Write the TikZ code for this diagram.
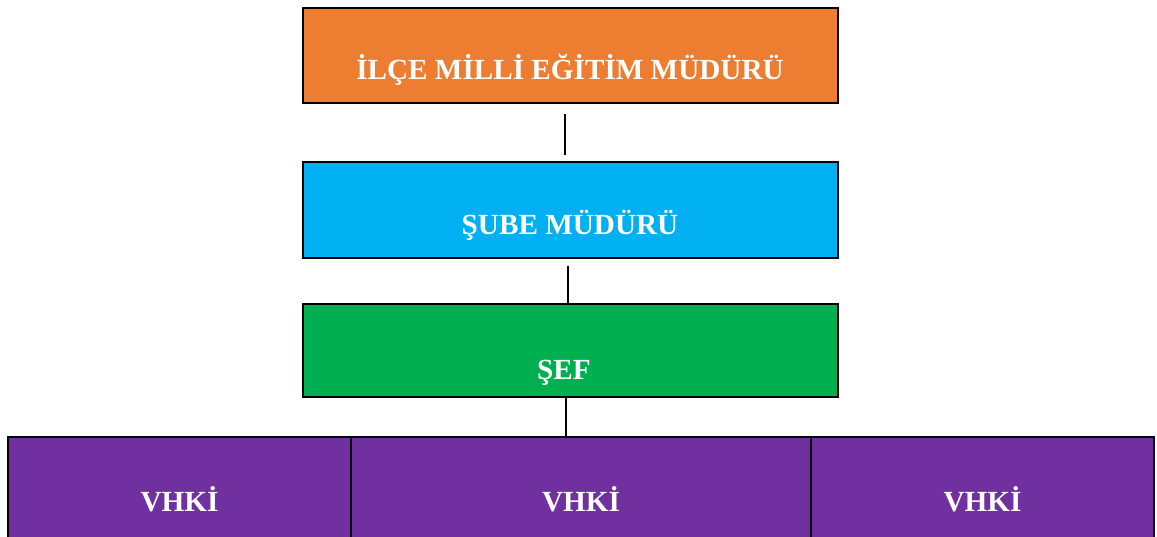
\documentclass[tikz,border=0pt]{standalone}
\usepackage{fontspec}
\setmainfont{Liberation Serif}
\definecolor{cOrange}{HTML}{ED7D31}
\definecolor{cBlue}{HTML}{00B0F0}
\definecolor{cGreen}{HTML}{00B050}
\definecolor{cPurple}{HTML}{7030A0}
\tikzset{
  boxstyle/.style={draw=black, line width=2pt, rectangle, inner sep=0pt, outer sep=0pt},
  lbl/.style={anchor=base, text=white, inner sep=0pt, font=\fontsize{29.2}{35}\selectfont\bfseries},
  conn/.style={draw=black, line width=1.5pt}
}
\begin{document}
\begin{tikzpicture}[x=1pt,y=-1pt]
\useasboundingbox (0,0) rectangle (1157,537);
\clip (0,0) rectangle (1157,537);
% boxes
\node[boxstyle, fill=cOrange, minimum width=535pt, minimum height=95pt] (mudur) at (570.5,55.5) {};
\node[boxstyle, fill=cBlue, minimum width=535pt, minimum height=96pt] (sube) at (570.5,210) {};
\node[boxstyle, fill=cGreen, minimum width=535pt, minimum height=93pt] (sef) at (570.5,350.5) {};
\node[boxstyle, fill=cPurple, minimum width=343pt, minimum height=140pt] (v1) at (179.5,507) {};
\node[boxstyle, fill=cPurple, minimum width=460pt, minimum height=140pt] (v2) at (581,507) {};
\node[boxstyle, fill=cPurple, minimum width=343pt, minimum height=140pt] (v3) at (982.5,507) {};
% labels
\node[lbl] (tmudur) at (570,80) {İLÇE MİLLİ EĞİTİM MÜDÜRÜ};
\node[lbl] (tsube) at (570,235) {ŞUBE MÜDÜRÜ};
\node[lbl] (tsef) at (564,379) {ŞEF};
\node[lbl] (tv1) at (179.5,511) {VHKİ};
\node[lbl] (tv2) at (581,511) {VHKİ};
\node[lbl] (tv3) at (982.5,511) {VHKİ};
% connectors
\draw[conn, shorten <=11pt, shorten >=7pt] ([xshift=-5.5pt]mudur.south) -- ([xshift=-5.5pt]sube.north);
\draw[conn, shorten <=8pt, shorten >=1pt] ([xshift=-2.5pt]sube.south) -- ([xshift=-2.5pt]sef.north);
\draw[conn] ([xshift=-4.5pt]sef.south) -- ([xshift=-15pt]v2.north);
\end{tikzpicture}
\end{document}
